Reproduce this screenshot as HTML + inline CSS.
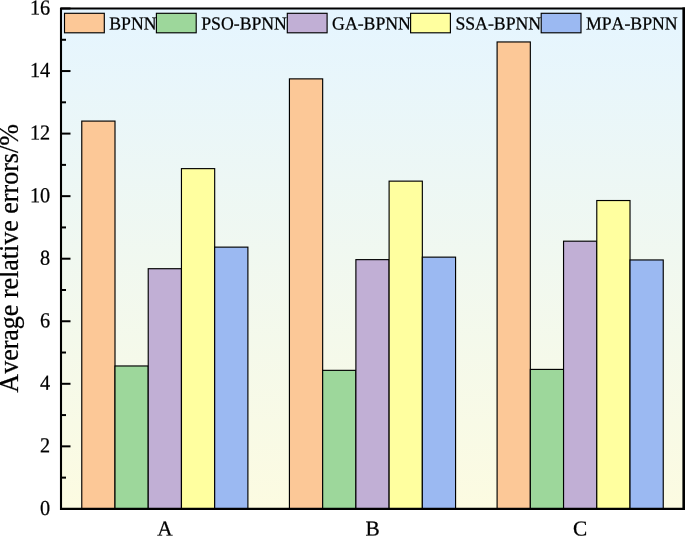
<!DOCTYPE html>
<html lang="en"><head><meta charset="utf-8"><title>Average relative errors</title>
<style>html,body{margin:0;padding:0;background:#fff;}body{width:685px;height:536px;overflow:hidden;}svg{display:block;}text{font-family:"Liberation Serif","Times New Roman",serif;fill:#000;font-kerning:none;stroke:#000;stroke-width:0.25px;}</style></head><body>
<svg width="685" height="536" viewBox="0 0 685 536">
<defs><linearGradient id="bg" x1="0" y1="0" x2="0" y2="1"><stop offset="0" stop-color="#E5F5FF"/><stop offset="1" stop-color="#FCFBE1"/></linearGradient></defs>
<rect x="0" y="0" width="685" height="536" fill="#fff"/>
<rect x="61.0" y="8.5" width="623.0" height="500.4" fill="url(#bg)"/>
<rect x="81.77" y="121.09" width="33.23" height="387.81" fill="#FCC897" stroke="#000" stroke-width="1.15"/>
<rect x="114.99" y="365.97" width="33.23" height="142.93" fill="#9DD79B" stroke="#000" stroke-width="1.15"/>
<rect x="148.22" y="268.71" width="33.23" height="240.19" fill="#C1AFD5" stroke="#000" stroke-width="1.15"/>
<rect x="181.45" y="168.63" width="33.23" height="340.27" fill="#FFFF9F" stroke="#000" stroke-width="1.15"/>
<rect x="214.67" y="247.13" width="33.23" height="261.77" fill="#9BB9F2" stroke="#000" stroke-width="1.15"/>
<rect x="289.43" y="78.87" width="33.23" height="430.03" fill="#FCC897" stroke="#000" stroke-width="1.15"/>
<rect x="322.66" y="370.35" width="33.23" height="138.55" fill="#9DD79B" stroke="#000" stroke-width="1.15"/>
<rect x="355.89" y="259.64" width="33.23" height="249.26" fill="#C1AFD5" stroke="#000" stroke-width="1.15"/>
<rect x="389.11" y="181.14" width="33.23" height="327.76" fill="#FFFF9F" stroke="#000" stroke-width="1.15"/>
<rect x="422.34" y="257.14" width="33.23" height="251.76" fill="#9BB9F2" stroke="#000" stroke-width="1.15"/>
<rect x="497.10" y="41.96" width="33.23" height="466.94" fill="#FCC897" stroke="#000" stroke-width="1.15"/>
<rect x="530.33" y="369.41" width="33.23" height="139.49" fill="#9DD79B" stroke="#000" stroke-width="1.15"/>
<rect x="563.55" y="241.19" width="33.23" height="267.71" fill="#C1AFD5" stroke="#000" stroke-width="1.15"/>
<rect x="596.78" y="200.53" width="33.23" height="308.37" fill="#FFFF9F" stroke="#000" stroke-width="1.15"/>
<rect x="630.01" y="259.95" width="33.23" height="248.95" fill="#9BB9F2" stroke="#000" stroke-width="1.15"/>
<line x1="61.0" y1="477.62" x2="66.0" y2="477.62" stroke="#000" stroke-width="2"/>
<line x1="61.0" y1="446.35" x2="70.5" y2="446.35" stroke="#000" stroke-width="2"/>
<line x1="61.0" y1="415.07" x2="66.0" y2="415.07" stroke="#000" stroke-width="2"/>
<line x1="61.0" y1="383.80" x2="70.5" y2="383.80" stroke="#000" stroke-width="2"/>
<line x1="61.0" y1="352.52" x2="66.0" y2="352.52" stroke="#000" stroke-width="2"/>
<line x1="61.0" y1="321.25" x2="70.5" y2="321.25" stroke="#000" stroke-width="2"/>
<line x1="61.0" y1="289.98" x2="66.0" y2="289.98" stroke="#000" stroke-width="2"/>
<line x1="61.0" y1="258.70" x2="70.5" y2="258.70" stroke="#000" stroke-width="2"/>
<line x1="61.0" y1="227.43" x2="66.0" y2="227.43" stroke="#000" stroke-width="2"/>
<line x1="61.0" y1="196.15" x2="70.5" y2="196.15" stroke="#000" stroke-width="2"/>
<line x1="61.0" y1="164.88" x2="66.0" y2="164.88" stroke="#000" stroke-width="2"/>
<line x1="61.0" y1="133.60" x2="70.5" y2="133.60" stroke="#000" stroke-width="2"/>
<line x1="61.0" y1="102.32" x2="66.0" y2="102.32" stroke="#000" stroke-width="2"/>
<line x1="61.0" y1="71.05" x2="70.5" y2="71.05" stroke="#000" stroke-width="2"/>
<line x1="61.0" y1="39.77" x2="66.0" y2="39.77" stroke="#000" stroke-width="2"/>
<line x1="61.0" y1="8.50" x2="70.5" y2="8.50" stroke="#000" stroke-width="2"/>
<path d="M61.0 510 V8.5 H686" fill="none" stroke="#000" stroke-width="2.1" stroke-linejoin="miter"/>
<rect x="60" y="507.75" width="626" height="2.25" fill="#000"/>
<rect x="682.4" y="7.45" width="3" height="502.55" fill="#000"/>
<text transform="translate(50.2,514.90) rotate(0.03) scale(0.95,1)" font-size="21.3" text-anchor="end" stroke-width="0.5">0</text>
<text transform="translate(50.2,452.35) rotate(0.03) scale(0.95,1)" font-size="21.3" text-anchor="end" stroke-width="0.5">2</text>
<text transform="translate(50.2,389.80) rotate(0.03) scale(0.95,1)" font-size="21.3" text-anchor="end" stroke-width="0.5">4</text>
<text transform="translate(50.2,327.25) rotate(0.03) scale(0.95,1)" font-size="21.3" text-anchor="end" stroke-width="0.5">6</text>
<text transform="translate(50.2,264.70) rotate(0.03) scale(0.95,1)" font-size="21.3" text-anchor="end" stroke-width="0.5">8</text>
<text transform="translate(50.2,202.15) rotate(0.03) scale(0.95,1)" font-size="21.3" text-anchor="end" stroke-width="0.5">10</text>
<text transform="translate(50.2,139.60) rotate(0.03) scale(0.95,1)" font-size="21.3" text-anchor="end" stroke-width="0.5">12</text>
<text transform="translate(50.2,77.05) rotate(0.03) scale(0.95,1)" font-size="21.3" text-anchor="end" stroke-width="0.5">14</text>
<text transform="translate(50.2,14.50) rotate(0.03) scale(0.95,1)" font-size="21.3" text-anchor="end" stroke-width="0.5">16</text>
<text transform="translate(164.83,535.6) rotate(0.03) scale(1.0,1)" font-size="21.3" text-anchor="middle" stroke-width="0.5">A</text>
<text transform="translate(372.50,535.6) rotate(0.03) scale(1.0,1)" font-size="21.3" text-anchor="middle" stroke-width="0.5">B</text>
<text transform="translate(580.17,535.6) rotate(0.03) scale(1.0,1)" font-size="21.3" text-anchor="middle" stroke-width="0.5">C</text>
<text transform="translate(18.4,258.4) rotate(-90) scale(0.963,1)" font-size="27.0" text-anchor="middle" stroke-width="0.4">Average relative errors/%</text>
<rect x="64.5" y="13.3" width="39.8" height="19.5" fill="#FCC897" stroke="#000" stroke-width="1.15"/>
<text transform="translate(109.3,29.4) rotate(0.03) scale(0.964,1)" font-size="18.4" stroke-width="0.3">BPNN</text>
<rect x="156.4" y="13.3" width="39.8" height="19.5" fill="#9DD79B" stroke="#000" stroke-width="1.15"/>
<text transform="translate(201.2,29.4) rotate(0.03) scale(0.964,1)" font-size="18.4" stroke-width="0.3">PSO-BPNN</text>
<rect x="287.3" y="13.3" width="39.8" height="19.5" fill="#C1AFD5" stroke="#000" stroke-width="1.15"/>
<text transform="translate(332.1,29.4) rotate(0.03) scale(0.964,1)" font-size="18.4" stroke-width="0.3">GA-BPNN</text>
<rect x="410.6" y="13.3" width="39.8" height="19.5" fill="#FFFF9F" stroke="#000" stroke-width="1.15"/>
<text transform="translate(455.40000000000003,29.4) rotate(0.03) scale(0.964,1)" font-size="18.4" stroke-width="0.3">SSA-BPNN</text>
<rect x="541.2" y="13.3" width="39.8" height="19.5" fill="#9BB9F2" stroke="#000" stroke-width="1.15"/>
<text transform="translate(586.0,29.4) rotate(0.03) scale(0.964,1)" font-size="18.4" stroke-width="0.3">MPA-BPNN</text>
</svg></body></html>
